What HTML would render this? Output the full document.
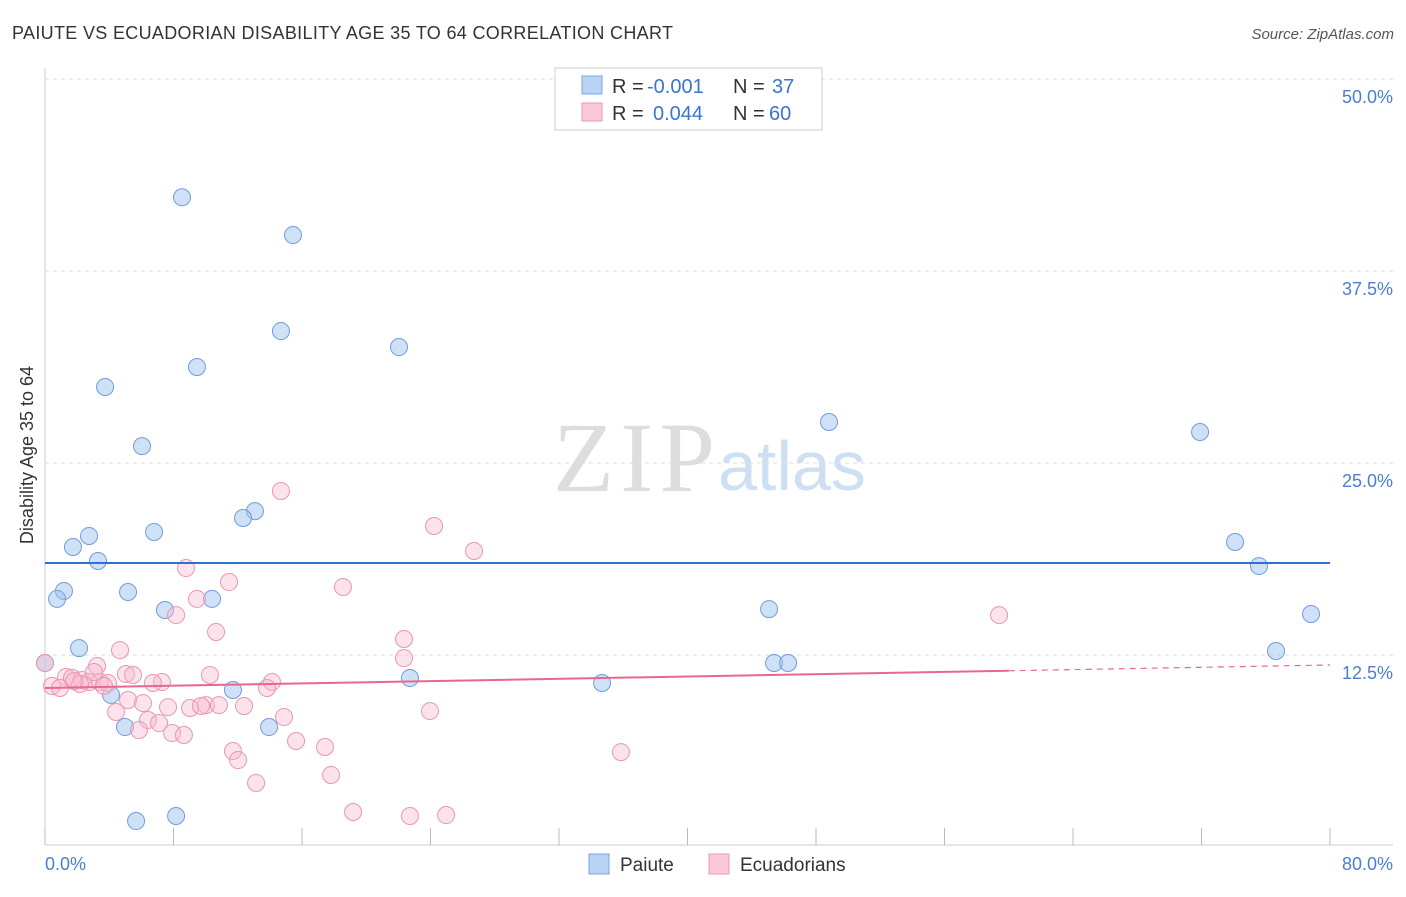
<!DOCTYPE html>
<html><head><meta charset="utf-8"><style>
body{margin:0;background:#fff;font-family:"Liberation Sans",sans-serif}
</style></head><body>
<svg width="1406" height="892" xmlns="http://www.w3.org/2000/svg" font-family="Liberation Sans, sans-serif">
<text x="12" y="39" font-size="18" fill="#333" textLength="661">PAIUTE VS ECUADORIAN DISABILITY AGE 35 TO 64 CORRELATION CHART</text>
<text x="1394" y="39" font-size="15" fill="#555" text-anchor="end" font-style="italic">Source: ZipAtlas.com</text>
<text x="553" y="491" font-size="100" fill="#ddd" font-family="Liberation Serif, serif" textLength="162">ZIP</text>
<text x="718" y="490" font-size="70" fill="#cfdff3">atlas</text>
<g id="grid"></g>
<g id="axes"></g>
<g id="marks"></g>
<text transform="translate(33,455) rotate(-90)" font-size="18" fill="#333" text-anchor="middle">Disability Age 35 to 64</text>
<text x="45" y="870" font-size="18" fill="#4a7fd0">0.0%</text>
<text x="1393" y="870" font-size="18" fill="#4a7fd0" text-anchor="end">80.0%</text>
<g font-size="20">
<rect x="555" y="68" width="267" height="62" fill="#fff" stroke="#ccc"/>
<rect x="582" y="76" width="20" height="18" fill="#b8d3f5" stroke="#7aa6e0"/>
<rect x="582" y="103" width="20" height="18" fill="#fbc8d7" stroke="#ea98b2"/>
<text x="612" y="93" fill="#333">R =</text>
<text x="647" y="93" fill="#3b73d0">-0.001</text>
<text x="733" y="93" fill="#333">N =</text>
<text x="772" y="93" fill="#3b73d0">37</text>
<text x="612" y="120" fill="#333">R =</text>
<text x="653" y="120" fill="#3b73d0">0.044</text>
<text x="733" y="120" fill="#333">N =</text>
<text x="769" y="120" fill="#3b73d0">60</text>
</g>
<g>
<rect x="589" y="854" width="20" height="20" fill="#b8d3f5" stroke="#7aa6e0"/>
<text x="620" y="871" font-size="19" fill="#333">Paiute</text>
<rect x="709" y="854" width="20" height="20" fill="#fbc8d7" stroke="#ea98b2"/>
<text x="740" y="871" font-size="19" fill="#333">Ecuadorians</text>
</g>
</svg>
<script>
const yTicks=[12.5,25,37.5,50];
const yTickLabels=["12.5%","25.0%","37.5%","50.0%"];
const xTicks=[0,8,16,24,32,40,48,56,64,72,80];
const paiuteX=[8.53,15.44,14.69,22.04,9.46,3.74,6.04,48.81,71.91,13.07,12.33,6.79,2.74,1.74,3.3,74.09,75.58,1.18,0.75,5.17,7.47,10.4,45.08,78.82,2.12,76.64,0,45.39,46.26,22.72,34.68,11.7,4.11,4.98,13.95,5.67,8.16];
const paiuteY=[42.3,39.84,33.59,32.55,31.25,29.95,26.1,27.67,27.02,21.87,21.42,20.51,20.25,19.53,18.62,19.86,18.29,16.67,16.15,16.6,15.43,16.15,15.49,15.17,12.95,12.76,11.98,11.98,11.98,11.0,10.68,10.22,9.9,7.81,7.81,1.69,2.02];
const ecuX=[14.69,24.22,26.71,8.78,11.46,18.55,9.46,8.16,59.4,10.65,22.35,4.67,22.35,3.24,5.04,5.48,10.27,0,1.31,1.68,2.3,2.74,3.42,3.92,2.18,0.44,0.93,7.28,6.72,14.13,13.82,3.67,5.17,6.1,7.66,9.03,10.02,10.83,12.39,9.71,23.97,4.42,14.88,6.41,7.1,5.85,7.91,8.65,15.63,17.43,11.7,12.02,17.81,13.14,35.86,19.18,22.72,24.97,3.05,1.81];
const ecuY=[23.18,20.9,19.27,18.16,17.25,16.93,16.15,15.1,15.1,14.0,13.54,12.82,12.3,11.78,11.26,11.2,11.2,11.98,11.07,11.0,10.87,10.74,10.74,10.68,10.61,10.48,10.35,10.74,10.68,10.74,10.35,10.48,9.57,9.37,9.11,9.05,9.24,9.24,9.18,9.18,8.85,8.79,8.46,8.27,8.07,7.62,7.42,7.29,6.9,6.51,6.25,5.66,4.69,4.17,6.18,2.28,2.02,2.08,11.39,10.81];
const paiuteTrend=[18.49,18.49];
const ecuTrend=[10.35,11.85];
const ecuSolidEnd=60;
const NS="http://www.w3.org/2000/svg";
const sx=v=>45+v/80*1285, sy=v=>847-v/12.5*192;
function mk(t,a,p){const e=document.createElementNS(NS,t);for(const k in a)e.setAttribute(k,a[k]);document.getElementById(p).appendChild(e);return e;}
yTicks.forEach((t,i)=>{
 const l=mk('line',{x1:45,x2:1393,y1:sy(t),y2:sy(t),stroke:'#ddd','stroke-dasharray':'4,4'},'grid');
 
 
 const tx=mk('text',{x:1393,y:sy(t)+24,'font-size':18,fill:'#4a7fd0','text-anchor':'end'},'grid');
 tx.textContent=yTickLabels[i];
 
 
});
const ax=mk('line',{x1:45,x2:1393,y1:845,y2:845,stroke:'#ccc'},'axes');


const ay=mk('line',{x1:45,x2:45,y1:68,y2:845,stroke:'#ccc'},'axes');


xTicks.forEach(t=>{
 const l=mk('line',{x1:sx(t),x2:sx(t),y1:828,y2:845,stroke:'#bbb'},'axes');
 
 
});
paiuteX.forEach((x,i)=>{
 const c=mk('circle',{cx:sx(x),cy:sy(paiuteY[i]),r:8.5,fill:'rgba(160,195,240,0.5)',stroke:'#6f9ddc','stroke-width':1},'marks');
 
 
});
ecuX.forEach((x,i)=>{
 const c=mk('circle',{cx:sx(x),cy:sy(ecuY[i]),r:8.5,fill:'rgba(248,185,205,0.4)',stroke:'#e996b2','stroke-width':1},'marks');
 
 
});
const pl=mk('line',{x1:sx(0),x2:sx(80),y1:sy(paiuteTrend[0]),y2:sy(paiuteTrend[1]),stroke:'#2f6fd6','stroke-width':2},'marks');


const ey=v=>ecuTrend[0]+(ecuTrend[1]-ecuTrend[0])*v/80;
const el1=mk('line',{x1:sx(0),x2:sx(ecuSolidEnd),y1:sy(ey(0)),y2:sy(ey(ecuSolidEnd)),stroke:'#e8678f','stroke-width':2},'marks');


const el2=mk('line',{x1:sx(ecuSolidEnd),x2:sx(80),y1:sy(ey(ecuSolidEnd)),y2:sy(ey(80)),stroke:'#e8678f','stroke-width':1.2,'stroke-dasharray':'6,5'},'marks');


</script>
</body></html>
